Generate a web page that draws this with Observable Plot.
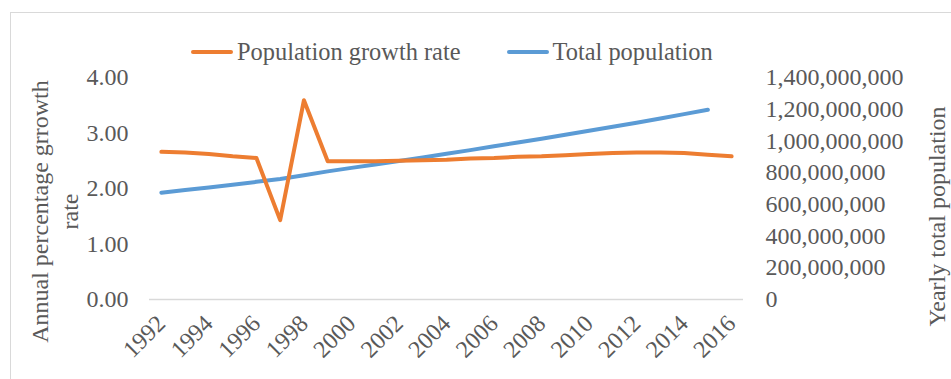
<!DOCTYPE html>
<html>
<head>
<meta charset="utf-8">
<script src="https://cdn.jsdelivr.net/npm/d3@7"></script>
<script src="https://cdn.jsdelivr.net/npm/@observablehq/plot@0.6"></script>
<style>
  html, body { margin: 0; padding: 0; background: #fff; width: 951px; height: 379px; overflow: hidden; }
  body { position: relative; font-family: "Liberation Serif", "Times New Roman", serif; color: #595959; }
  .frame { position: absolute; left: 10px; top: 12px; width: 1000px; height: 500px; border: 1px solid #d9d9d9; box-sizing: border-box; }
  .legend { position: relative; height: 60px; display: flex; align-items: flex-start; padding-left: 191px; padding-top: 40px; font-size: 24.4px; line-height: 24px; box-sizing: border-box; }
  .item { display: flex; align-items: center; margin-right: 46px; }
  .swatch { width: 42px; height: 4px; margin-right: 4px; border-radius: 2px; }
  #chart { position: relative; }
  #chart svg { overflow: visible; display: block; }
</style>
</head>
<body>
<div class="frame"></div>
<div class="legend" id="legend"></div>
<div id="chart"></div>
<script>
// Years on the category axis
const years = [1992, 1993, 1994, 1995, 1996, 1997, 1998, 1999, 2000, 2001, 2002, 2003, 2004,
               2005, 2006, 2007, 2008, 2009, 2010, 2011, 2012, 2013, 2014, 2015, 2016];

// Annual percentage growth rate (left axis)
const growthRate = [2.66, 2.65, 2.62, 2.58, 2.55, 1.43, 3.59, 2.49, 2.49, 2.49, 2.50, 2.51, 2.52,
                    2.54, 2.55, 2.57, 2.58, 2.60, 2.62, 2.64, 2.65, 2.65, 2.64, 2.61, 2.58];

// Yearly total population, 1992–2015 (right axis)
const totalPopulation = [673e6, 690e6, 707e6, 724e6, 742e6, 760e6, 784e6, 808e6, 830e6, 852e6,
                         874e6, 896e6, 919e6, 942e6, 966e6, 990e6, 1014e6, 1039e6, 1064e6,
                         1089e6, 1115e6, 1142e6, 1169e6, 1197e6];

// Tick values
const leftTicks = [0, 1, 2, 3, 4];
const rightTicks = [0, 200e6, 400e6, 600e6, 800e6, 1000e6, 1200e6, 1400e6];
const yearTicks = [1992, 1994, 1996, 1998, 2000, 2002, 2004, 2006, 2008, 2010, 2012, 2014, 2016];

const seriesNames = ["Population growth rate", "Total population"];
const seriesColors = ["#ED7D31", "#5B9BD5"];
const leftTitle = "Annual percentage grrowth\nrate";
const rightTitle = "Yearly total population";

// Secondary axis: 1,400,000,000 lines up with 4.00 on the primary axis
const POP_PER_UNIT = 1400e6 / 4;

const growthData = years.map((year, i) => ({year, rate: growthRate[i]}));
const popData = totalPopulation.map((pop, i) => ({year: years[i], pop}));

// Legend
const legend = document.getElementById("legend");
seriesNames.forEach((name, i) => {
  const item = document.createElement("div");
  item.className = "item";
  const sw = document.createElement("span");
  sw.className = "swatch";
  sw.style.background = seriesColors[i];
  const label = document.createElement("span");
  label.textContent = name;
  item.append(sw, label);
  legend.append(item);
});

const font = '"Liberation Serif", "Times New Roman", serif';
const textColor = "#595959";

const chart = Plot.plot({
  width: 951,
  height: 319,
  marginTop: 17,
  marginBottom: 80,
  marginLeft: 149,
  marginRight: 208,
  x: {domain: [1991.5, 2016.5], axis: null},
  y: {domain: [0, 4], axis: null},
  style: {fontFamily: font, fontSize: "24px", color: textColor, background: "transparent"},
  marks: [
    Plot.ruleY([0], {stroke: "#d9d9d9", strokeWidth: 1.5}),
    Plot.axisY(leftTicks, {
      anchor: "left", tickSize: 0, tickPadding: 21, label: null,
      tickFormat: d3.format(".2f"), fontSize: 24, fill: textColor
    }),
    Plot.axisY(rightTicks.map(v => v / POP_PER_UNIT), {
      anchor: "right", tickSize: 0, tickPadding: 22, label: null,
      tickFormat: d => d3.format(",")(Math.round(d * POP_PER_UNIT)), fontSize: 24, fill: textColor
    }),
    Plot.text(yearTicks, {
      x: d => d, frameAnchor: "bottom", dy: 20, rotate: -45,
      textAnchor: "end", lineAnchor: "middle", text: d => String(d),
      fontSize: 24, fill: textColor
    }),
    Plot.line(popData, {
      x: "year", y: d => d.pop / POP_PER_UNIT,
      stroke: seriesColors[1], strokeWidth: 4, strokeLinecap: "round", strokeLinejoin: "round"
    }),
    Plot.line(growthData, {
      x: "year", y: "rate",
      stroke: seriesColors[0], strokeWidth: 4, strokeLinecap: "round", strokeLinejoin: "round"
    }),
    Plot.text([leftTitle], {
      frameAnchor: "left", dx: -96, dy: 23, rotate: -90, text: d => d,
      textAnchor: "middle", lineAnchor: "middle",
      lineHeight: 1.25, fontSize: 24, fill: textColor
    }),
    Plot.text([rightTitle], {
      frameAnchor: "right", dx: 194, dy: 28, rotate: -90, text: d => d,
      textAnchor: "middle", lineAnchor: "middle",
      fontSize: 24, fill: textColor
    })
  ]
});

document.getElementById("chart").append(chart);
</script>
</body>
</html>
